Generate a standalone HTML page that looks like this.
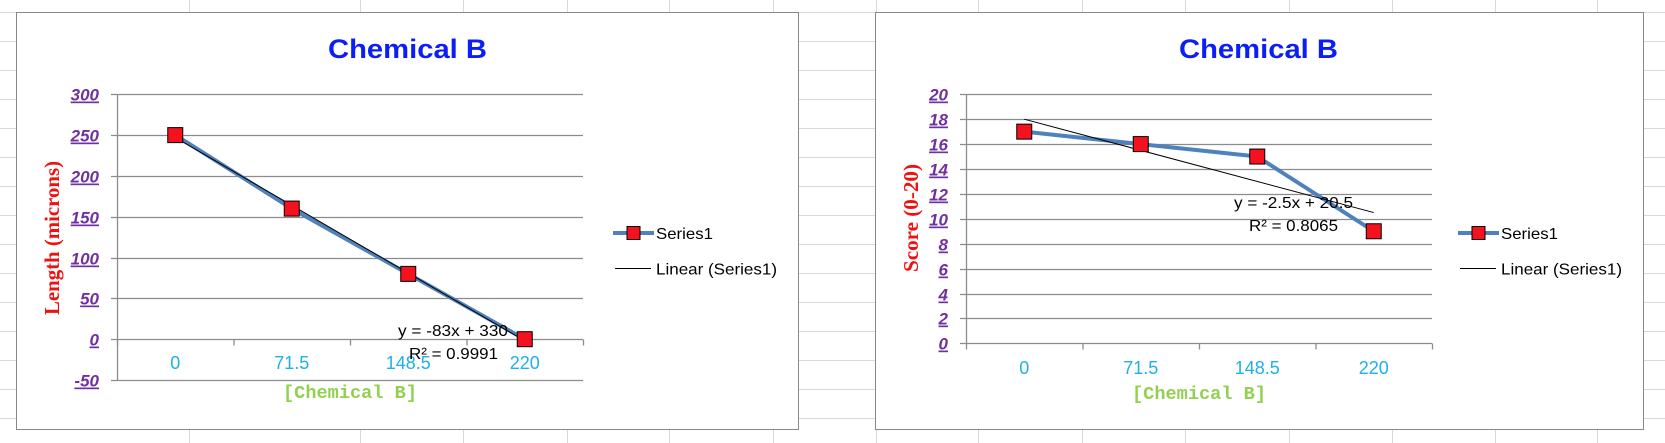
<!DOCTYPE html>
<html><head><meta charset="utf-8"><style>
html,body{margin:0;padding:0;background:#fff;}
svg{display:block;}
</style></head><body>
<svg id="root" width="1665" height="443" xmlns="http://www.w3.org/2000/svg">
<g id="sheet"></g>
<g id="c1"></g>
<g id="c2"></g>
</svg>
<script>
const categories = ["0", "71.5", "148.5", "220"];
const lengthValues = [250, 160, 80, 0];
const lengthTicks = [300, 250, 200, 150, 100, 50, 0, -50];
const lengthTrend = [-83, 330];
const scoreValues = [17, 16, 15, 9];
const scoreTicks = [20, 18, 16, 14, 12, 10, 8, 6, 4, 2, 0];
const scoreTrend = [-2.5, 20.5];

const NS = "http://www.w3.org/2000/svg";
function mk(parent, tag, attrs, text) {
  const e = document.createElementNS(NS, tag);
  for (const k in attrs) e.setAttribute(k, attrs[k]);
  if (text !== undefined) e.textContent = text;
  parent.appendChild(e);
  return e;
}

const sheet = document.getElementById('sheet');
for (let y = 12.5; y < 443; y += 29) {
  const l = mk(sheet, 'line', {x1: 0, x2: 1665, y1: y, y2: y, stroke: '#d9d9d9', 'stroke-width': 1});
  
  
}
[189, 360, 463, 567, 669, 773, 876, 978, 1082, 1185, 1289, 1392, 1495, 1597].forEach(x => {
  const l = mk(sheet, 'line', {x1: x + .5, x2: x + .5, y1: 0, y2: 443, stroke: '#d9d9d9', 'stroke-width': 1});
  
  
});

function drawChart(g, cfg) {
  const box = mk(g, 'rect', {x: cfg.bx + .5, y: 12.5, width: cfg.bw, height: 417, fill: '#fff', stroke: '#888', 'stroke-width': 1});
  
  
  const px0 = cfg.px, px1 = cfg.px + 466;
  const ticks = cfg.ticks;
  const ymax = ticks[0], ymin = ticks[ticks.length - 1];
  const yS = v => cfg.top + (ymax - v) / (ymax - ymin) * (cfg.bot - cfg.top);
  const cw = (px1 - px0) / categories.length;
  const xS = i => px0 + cw * (i + 0.5);

  const t = mk(g, 'text', {x: cfg.titleX, y: 58, 'font-family': 'Liberation Sans, sans-serif', 'font-weight': 'bold', 'font-size': 27, fill: '#0B1EF5', textLength: 159, lengthAdjust: 'spacingAndGlyphs'}, 'Chemical B');
  
  

  ticks.forEach(v => {
    const y = Math.round(yS(v)) + .5;
    const gl = mk(g, 'line', {x1: px0 - 6, x2: px1, y1: y, y2: y, stroke: '#8c8c8c', 'stroke-width': 1.3});
    
    
    const lb = mk(g, 'text', {x: cfg.lblX, y: y + 6, 'text-anchor': 'end', 'font-family': 'Liberation Sans, sans-serif', 'font-weight': 'bold', 'font-style': 'italic', 'font-size': 17, fill: '#7030A0', 'text-decoration': 'underline'}, String(v));
    
    
  });
  const ax = mk(g, 'line', {x1: px0 + .5, x2: px0 + .5, y1: yS(ymax), y2: yS(ymin), stroke: '#8c8c8c', 'stroke-width': 1.3});
  
  
  const zy = Math.round(yS(cfg.xAxisAt)) + .5;
  for (let i = 0; i <= categories.length; i++) {
    const tk = mk(g, 'line', {x1: px0 + cw * i + .5, x2: px0 + cw * i + .5, y1: zy, y2: zy + 6, stroke: '#8c8c8c', 'stroke-width': 1.3});
    
    
  }
  categories.forEach((c, i) => {
    const l = mk(g, 'text', {x: xS(i), y: cfg.xLblY + 7, 'text-anchor': 'middle', 'font-family': 'Liberation Sans, sans-serif', 'font-size': 18, fill: '#1EB0EC'}, c);
    
    
  });
  const xt = mk(g, 'text', {x: (px0 + px1) / 2, y: cfg.xTitleY + 6, 'text-anchor': 'middle', 'font-family': 'Liberation Mono, monospace', 'font-weight': 'bold', 'font-size': 18, fill: '#92D050', textLength: 134, lengthAdjust: 'spacingAndGlyphs'}, '[Chemical B]');
  
  
  const yt = mk(g, 'text', {x: 0, y: 0, transform: `translate(${cfg.ytX + 7},${cfg.ytY}) rotate(-90)`, 'text-anchor': 'middle', 'font-family': 'Liberation Serif, serif', 'font-weight': 'bold', 'font-size': 21, fill: '#F01010', textLength: cfg.ytLen, lengthAdjust: 'spacingAndGlyphs'}, cfg.yTitle);
  
  

  const vals = cfg.values;
  const pts = vals.map((v, i) => xS(i) + ',' + yS(v)).join(' ');
  const sl = mk(g, 'polyline', {points: pts, fill: 'none', stroke: '#4F81BD', 'stroke-width': 4, 'stroke-linejoin': 'round'});
  
  
  const [m, b] = cfg.trend;
  const tl = mk(g, 'line', {x1: xS(0), y1: yS(m * 1 + b), x2: xS(vals.length - 1), y2: yS(m * vals.length + b), stroke: '#000', 'stroke-width': 1});
  
  
  vals.forEach((v, i) => {
    const r = mk(g, 'rect', {x: xS(i) - 7.5, y: yS(v) - 7.5, width: 15, height: 15, fill: '#F5111E', stroke: '#000', 'stroke-width': 1});
    
    
  });
  const e1 = mk(g, 'text', {x: cfg.eq[0], y: cfg.eq[1] + 6, 'font-family': 'Liberation Sans, sans-serif', 'font-size': 16, fill: '#000', textLength: cfg.eq[2], lengthAdjust: 'spacingAndGlyphs'}, `y = ${m}x + ${b}`);
  
  
  const e2 = mk(g, 'text', {x: cfg.eq[3], y: cfg.eq[4] + 6, 'font-family': 'Liberation Sans, sans-serif', 'font-size': 16, fill: '#000', textLength: cfg.eq[5], lengthAdjust: 'spacingAndGlyphs'}, `R² = ${cfg.r2}`);
  
  

  const L = cfg.leg;
  const lg = mk(g, 'g', {});
  
  
  const l1 = mk(lg, 'line', {x1: L, x2: L + 41, y1: 233, y2: 233, stroke: '#4F81BD', 'stroke-width': 4});
  
  
  const l1m = mk(lg, 'rect', {x: L + 14, y: 226.5, width: 13, height: 13, fill: '#F5111E', stroke: '#000', 'stroke-width': 1});
  
  
  const l1t = mk(lg, 'text', {x: L + 43, y: 239, 'font-family': 'Liberation Sans, sans-serif', 'font-size': 16, fill: '#000', textLength: 57, lengthAdjust: 'spacingAndGlyphs'}, 'Series1');
  
  
  const l2 = mk(lg, 'line', {x1: L + 2, x2: L + 38, y1: 268.5, y2: 268.5, stroke: '#000', 'stroke-width': 1});
  
  
  const l2t = mk(lg, 'text', {x: L + 43, y: 274.5, 'font-family': 'Liberation Sans, sans-serif', 'font-size': 16, fill: '#000', textLength: 121, lengthAdjust: 'spacingAndGlyphs'}, 'Linear (Series1)');
  
  
}

drawChart(document.getElementById('c1'), {
  bx: 16, bw: 782, px: 117, top: 94.3, bot: 380, ticks: lengthTicks, xAxisAt: 0,
  values: lengthValues, trend: lengthTrend, r2: '0.9991',
  titleX: 328, lblX: 99, xLblY: 362, xTitleY: 392, ytX: 52, ytY: 238, yTitle: 'Length (microns)', ytLen: 154,
  eq: [398, 330, 110, 409, 353, 89], leg: 613
});
drawChart(document.getElementById('c2'), {
  bx: 875, bw: 768, px: 966, top: 94.3, bot: 343.3, ticks: scoreTicks, xAxisAt: 0,
  values: scoreValues, trend: scoreTrend, r2: '0.8065',
  titleX: 1179, lblX: 948, xLblY: 367, xTitleY: 393, ytX: 911, ytY: 218, yTitle: 'Score (0-20)', ytLen: 108,
  eq: [1234, 202, 119, 1249, 225, 89], leg: 1458
});
</script>
</body></html>
